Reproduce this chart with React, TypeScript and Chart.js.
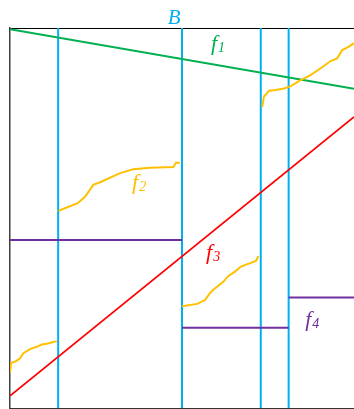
import React, { useEffect, useRef } from "react";
import { Chart, registerables } from "chart.js";

Chart.register(...registerables);

// Domain: x 0..100, y 0..100
const xMin = 0, xMax = 100, yMin = 0, yMax = 100;

// Vertical boundaries (set B partition)
const boundaries = [14, 50, 72.9, 81];

// f1 (green) and f3 (red) straight lines: [x, y]
const f1Points = [[0, 99.7], [100, 84]];
const f3Points = [[0, 3.2], [100, 76.6]];

// f4 (purple) step segments: [xStart, xEnd, y]
const f4Segments = [[0, 50, 44.2], [50, 81, 21.1], [81, 100, 29.1]];

// f2 (yellow) curve pieces
const f2PieceA = [[0, 9.3], [0.3, 11.8], [1.9, 12.4], [2.9, 13.1], [3.9, 14.4], [5.8, 15.5], [7.8, 16.1], [9.2, 16.7], [10.7, 16.9], [13.6, 17.6]];
const f2PieceB = [[14.1, 51.9], [19.7, 53.9], [21.8, 55.6], [24.2, 58.7], [26.2, 59.4], [32.0, 61.8], [35.8, 62.8], [40.7, 63.2], [47.5, 63.4], [48.3, 64.6], [49.4, 64.5]];
const f2PieceC = [[50.0, 26.8], [54.4, 27.4], [56.7, 28.4], [58.1, 30.2], [59.1, 31.1], [62.0, 33.2], [63.4, 34.7], [65.1, 35.7], [67.1, 37.2], [70.0, 38.2], [71.5, 38.7], [72.2, 40.0]];
const f2PieceD = [[73.3, 79.2], [73.8, 81.9], [75.3, 83.5], [77.2, 83.7], [79.7, 84.1], [81.6, 84.7], [84.5, 86.3], [87.4, 87.6], [90.3, 89.4], [93.2, 91.3], [95.1, 92.0], [96.6, 94.2], [98.5, 95.1], [100, 96.0]];

// Labels
const labelMain = ["B", "f", "f", "f", "f"];
const labelSub = ["", "1", "2", "3", "4"];
const labelX = [47.7, 58.4, 35.5, 57.0, 85.8];
const labelY = [101.1, 94.2, 57.6, 39.2, 21.6];
const labelAlign = ["center", "left", "left", "left", "left"];

const CYAN = "#00B0F0";
const GREEN = "#00B050";
const RED = "#FF0000";
const PURPLE = "#7030A0";
const YELLOW = "#FFC000";
const labelColors = [CYAN, GREEN, YELLOW, RED, PURPLE];

const toXY = (arr: number[][]) => arr.map(([x, y]) => ({ x, y }));

const labelPlugin = {
  id: "labels",
  afterDatasetsDraw(chart: any) {
    const { ctx, scales } = chart;
    ctx.save();
    for (let i = 0; i < labelMain.length; i++) {
      const px = scales.x.getPixelForValue(labelX[i]);
      const py = scales.y.getPixelForValue(labelY[i]);
      ctx.fillStyle = labelColors[i];
      ctx.textBaseline = "alphabetic";
      ctx.font = i === 0 ? "italic 21px 'Liberation Serif', serif" : "italic 22px 'Liberation Serif', serif";
      ctx.textAlign = labelAlign[i];
      ctx.fillText(labelMain[i], px, py);
      if (labelSub[i]) {
        const w = ctx.measureText(labelMain[i]).width;
        ctx.font = "italic 14px 'Liberation Serif', serif";
        ctx.textAlign = "left";
        ctx.fillText(labelSub[i], px + w + 1, py + 2);
      }
    }
    ctx.restore();
  },
};

export default function App() {
  const ref = useRef<HTMLCanvasElement | null>(null);

  useEffect(() => {
    if (!ref.current) return;
    const line = (data: any[], color: string, width = 2) => ({
      data,
      borderColor: color,
      backgroundColor: color,
      borderWidth: width,
      pointRadius: 0,
      showLine: true,
      fill: false,
      tension: 0,
    });
    const datasets: any[] = [];
    datasets.push(line(toXY(f2PieceA), YELLOW));
    datasets.push(line(toXY(f2PieceB), YELLOW));
    datasets.push(line(toXY(f2PieceC), YELLOW));
    datasets.push(line(toXY(f2PieceD), YELLOW));
    f4Segments.forEach(([a, b, y]) => datasets.push(line([{ x: a, y }, { x: b, y }], PURPLE)));
    datasets.push(line(toXY(f1Points), GREEN));
    datasets.push(line(toXY(f3Points), RED, 1.8));
    boundaries.forEach((bx) => datasets.push(line([{ x: bx, y: yMin }, { x: bx, y: yMax }], CYAN)));

    const chart = new Chart(ref.current, {
      type: "line",
      data: { datasets },
      options: {
        animation: false,
        responsive: false,
        devicePixelRatio: 1,
        layout: { padding: { left: 10, top: 28, right: 0, bottom: 1 } },
        plugins: { legend: { display: false }, tooltip: { enabled: false }, title: { display: false } },
        scales: {
          x: {
            type: "linear",
            position: "bottom",
            min: xMin,
            max: xMax,
            grid: { display: false, drawTicks: false },
            ticks: { display: false },
            border: { display: true, color: "#333333", width: 1 },
          },
          x2: {
            type: "linear",
            position: "top",
            min: xMin,
            max: xMax,
            grid: { display: false, drawTicks: false },
            ticks: { display: false },
            border: { display: true, color: "#000000", width: 1 },
          },
          y: {
            type: "linear",
            position: "left",
            min: yMin,
            max: yMax,
            grid: { display: false, drawTicks: false },
            ticks: { display: false },
            border: { display: true, color: "#404040", width: 1.5 },
          },
        },
      },
      plugins: [labelPlugin],
    });
    return () => chart.destroy();
  }, []);

  return (
    <div style={{ position: "fixed", left: 0, top: 0, width: 354, height: 409, background: "#fff" }}>
      <canvas ref={ref} width={354} height={409} style={{ display: "block", width: 354, height: 409 }} />
    </div>
  );
}
